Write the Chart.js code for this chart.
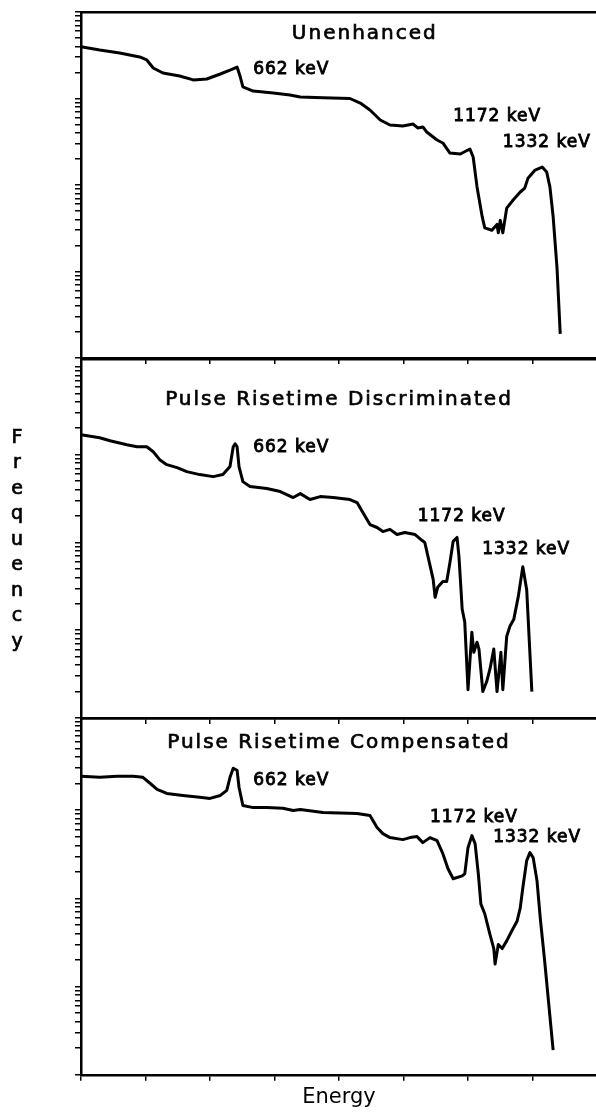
<!DOCTYPE html>
<html>
<head>
<meta charset="utf-8">
<script src="https://cdn.jsdelivr.net/npm/chart.js@4.4.1/dist/chart.umd.min.js"></script>
<style>
  html, body { margin: 0; padding: 0; background: #fff; overflow: hidden; }
  body { width: 596px; height: 1116px; position: relative; }
  .panel { position: absolute; left: 0; width: 600px; }
</style>
</head>
<body>
<div class="panel" style="top:0;height:366px"><canvas id="chart-unenhanced"></canvas></div>
<div class="panel" style="top:350px;height:376px"><canvas id="chart-discriminated"></canvas></div>
<div class="panel" style="top:710px;height:404px"><canvas id="chart-compensated"></canvas></div>
<script>
// spectra: x = energy channel (0..800), y = counts (log)
const unenhancedChannel = [0, 29, 60, 91, 102, 112, 127, 153, 174, 195, 216, 231, 242, 247, 251, 267, 298, 324, 340, 375, 417, 433, 448, 464, 479, 499, 515, 522, 530, 536, 552, 561, 572, 588, 603, 608, 614, 622, 626, 637, 645, 647, 650, 654, 660, 670, 681, 688, 693, 704, 715, 722, 727, 732, 738, 743];
const unenhancedCounts = [3970, 3640, 3360, 3020, 2790, 2250, 1970, 1820, 1640, 1680, 1920, 2130, 2310, 1770, 1360, 1220, 1160, 1100, 1040, 1020, 1000, 887, 736, 564, 494, 481, 507, 456, 469, 410, 331, 306, 234, 228, 261, 211, 95, 43, 32, 30, 35, 28, 39, 28, 54, 67, 83, 92, 120, 149, 161, 141, 95, 43, 11, 1.9];

const discriminatedChannel = [0, 29, 45, 71, 87, 102, 112, 122, 133, 149, 164, 184, 205, 220, 231, 236, 239, 242, 245, 251, 262, 288, 309, 329, 340, 355, 371, 391, 417, 428, 437, 448, 459, 468, 479, 490, 502, 518, 529, 533, 538, 546, 549, 553, 561, 567, 572, 577, 583, 586, 591, 595, 600, 606, 609, 614, 617, 623, 629, 634, 640, 645, 651, 654, 660, 665, 671, 678, 685, 691, 699];
const discriminatedCounts = [1690, 1560, 1440, 1300, 1230, 1230, 1080, 877, 769, 711, 641, 593, 562, 593, 731, 1230, 1330, 1230, 731, 493, 433, 411, 380, 325, 360, 308, 333, 325, 308, 285, 219, 160, 148, 133, 141, 123, 130, 123, 105, 100, 69, 38, 23.7, 30.8, 36, 36, 59, 103, 114, 69, 17.3, 12.3, 2.1, 9.5, 5.6, 7.3, 6.1, 2.0, 2.6, 3.6, 6.1, 2.0, 5.6, 2.1, 8.5, 11.1, 13.3, 24.3, 53, 29, 2.0];

const compensatedChannel = [0, 29, 56, 81, 96, 107, 118, 133, 158, 184, 200, 216, 226, 231, 236, 242, 245, 251, 267, 288, 313, 329, 340, 375, 428, 448, 459, 468, 479, 499, 510, 521, 530, 541, 552, 561, 569, 577, 591, 595, 600, 606, 611, 616, 620, 626, 634, 640, 642, 647, 653, 660, 668, 676, 681, 685, 691, 696, 701, 707, 712, 719, 732];
const compensatedCounts = [2430, 2360, 2430, 2430, 2360, 2020, 1720, 1550, 1470, 1400, 1360, 1470, 1680, 2360, 2990, 2840, 1820, 1130, 1070, 1070, 1050, 994, 1020, 943, 918, 871, 636, 543, 489, 464, 489, 502, 429, 489, 452, 321, 217, 167, 180, 190, 376, 515, 418, 190, 86, 67, 39, 27, 18, 30, 27, 33, 43, 55, 78, 132, 268, 330, 290, 158, 60, 19, 1.9];

const peakLabels = ['662 keV', '1172 keV', '1332 keV'];
const energyTicks = [0, 100, 200, 300, 400, 500, 600, 700, 800];
const decades = [1, 10, 100, 1000, 10000];

// 1..9 per decade, like log graph paper
const logTicks = [];
decades.forEach(d => { for (let m = 1; m <= 9; m++) logTicks.push(d * m); });

Chart.defaults.font.family = '"DejaVu Sans", sans-serif';
Chart.defaults.color = '#000';

// plotter lettering is heavier than the regular face, so fill + thin stroke
function heavyText(ctx, text, x, y) {
    ctx.fillText(text, x, y);
    ctx.strokeText(text, x, y);
}

function textPlugin(cfg) {
    return {
        id: 'panelText',
        afterDatasetsDraw(chart) {
            const { ctx, scales: { x, y }, chartArea } = chart;
            ctx.save();
            ctx.fillStyle = '#000';
            ctx.strokeStyle = '#000';
            ctx.lineWidth = 0.7;
            ctx.textBaseline = 'middle';

            ctx.font = '20px "DejaVu Sans"';
            ctx.letterSpacing = '2px';
            ctx.textAlign = 'center';
            heavyText(ctx, cfg.title, x.getPixelForValue(cfg.titleAt[0]), y.getPixelForValue(cfg.titleAt[1]));

            ctx.font = '17px "DejaVu Sans"';
            ctx.letterSpacing = '1px';
            ctx.textAlign = 'left';
            ctx.lineWidth = 0.9;
            peakLabels.forEach((label, i) => {
                const [c, v] = cfg.labelsAt[i];
                heavyText(ctx, label, x.getPixelForValue(c), y.getPixelForValue(v));
            });

            if (cfg.sideTitle) {
                // vertical "Frequency" written letter by letter
                ctx.font = '19px "DejaVu Sans"';
                ctx.letterSpacing = '0px';
                ctx.lineWidth = 0.7;
                ctx.textAlign = 'center';
                ctx.textBaseline = 'alphabetic';
                const letters = cfg.sideTitle.split('');
                const step = 25.5;
                const mid = (chartArea.top + chartArea.bottom) / 2;
                const first = mid - step * (letters.length - 1) / 2 + 6;
                letters.forEach((ch, i) => heavyText(ctx, ch, 17, first + i * step));
            }
            ctx.restore();
        }
    };
}

function makePanel(canvasId, channel, counts, yMax, padTop, cfg, energyTitle) {
    const ctx = document.getElementById(canvasId).getContext('2d');
    return new Chart(ctx, {
        type: 'line',
        data: {
            datasets: [{
                data: channel.map((c, i) => ({ x: c, y: counts[i] })),
                borderColor: '#000',
                borderWidth: 3,
                pointRadius: 0,
                tension: 0,
                borderJoinStyle: 'round',
                fill: false
            }]
        },
        options: {
            responsive: true,
            maintainAspectRatio: false,
            animation: false,
            layout: { padding: { left: 75, right: 3, top: padTop, bottom: 2 } },
            plugins: { legend: { display: false }, tooltip: { enabled: false } },
            scales: {
                x: {
                    type: 'linear', min: 0, max: 800,
                    afterBuildTicks: axis => { axis.ticks = energyTicks.map(v => ({ value: v })); },
                    ticks: { display: false },
                    grid: { drawOnChartArea: false, drawTicks: true, tickLength: 6, color: '#000', lineWidth: 1.5 },
                    border: { color: '#000', width: 2.5 },
                    title: energyTitle
                        ? { display: true, text: energyTitle, font: { size: 21 }, color: '#000', padding: { top: 4, bottom: 2 } }
                        : { display: false }
                },
                xTop: {
                    type: 'linear', position: 'top', min: 0, max: 800,
                    ticks: { display: false },
                    grid: { display: false, drawTicks: false },
                    border: { color: '#000', width: 2.5 }
                },
                y: {
                    type: 'logarithmic', min: 1, max: yMax,
                    afterBuildTicks: axis => { axis.ticks = logTicks.filter(v => v <= yMax).map(v => ({ value: v })); },
                    ticks: { display: false },
                    grid: { drawOnChartArea: false, drawTicks: true, tickLength: 6, color: '#000', lineWidth: 1.5 },
                    border: { color: '#000', width: 2.5 }
                }
            }
        },
        plugins: [textPlugin(cfg)]
    });
}

makePanel('chart-unenhanced', unenhancedChannel, unenhancedCounts, 10000, 12, {
    title: 'Unenhanced', titleAt: [440, 5570],
    labelsAt: [[267, 2140], [577, 611], [654, 306]]
});

makePanel('chart-discriminated', discriminatedChannel, discriminatedCounts, 12300, 9, {
    title: 'Pulse Risetime Discriminated', titleAt: [400, 4220],
    labelsAt: [[267, 1200], [522, 197], [622, 83]],
    sideTitle: 'Frequency'
});

makePanel('chart-compensated', compensatedChannel, compensatedCounts, 11100, 8, {
    title: 'Pulse Risetime Compensated', titleAt: [400, 5770],
    labelsAt: [[267, 2180], [541, 826], [639, 489]]
}, 'Energy');
</script>
</body>
</html>
